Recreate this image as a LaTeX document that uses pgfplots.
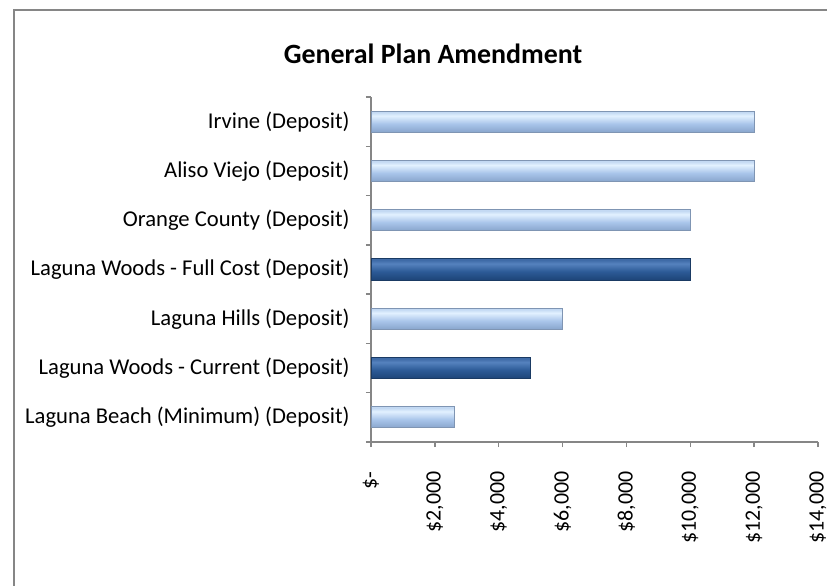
\documentclass[border=0pt]{standalone}
\usepackage{fontspec}
\setmainfont{Carlito}
\usepackage{pgfplots}
\pgfplotsset{compat=1.18}
\definecolor{axgray}{HTML}{868686}
\definecolor{lbBot}{HTML}{88A5CC}
\definecolor{lbMid}{HTML}{A9C5EA}
\definecolor{lbHi}{HTML}{E2F1FF}
\definecolor{lbTop}{HTML}{C3D9F3}
\definecolor{lbEdge}{HTML}{7F95B3}
\definecolor{dbBot}{HTML}{1D4477}
\definecolor{dbMid}{HTML}{2C5A96}
\definecolor{dbHi}{HTML}{5582BE}
\definecolor{dbTop}{HTML}{3F6BA7}
\definecolor{dbEdge}{HTML}{1A3A63}
\pgfdeclareverticalshading{lightbar}{100bp}{color(0bp)=(lbBot); color(25bp)=(lbBot); color(45bp)=(lbMid); color(64bp)=(lbHi); color(72bp)=(lbTop); color(75bp)=(lbTop); color(100bp)=(lbTop)}
\pgfdeclareverticalshading{darkbar}{100bp}{color(0bp)=(dbBot); color(25bp)=(dbBot); color(45bp)=(dbMid); color(64bp)=(dbHi); color(72bp)=(dbTop); color(75bp)=(dbTop); color(100bp)=(dbTop)}
\begin{document}
\begin{tikzpicture}
\useasboundingbox (0,0) rectangle (413.5bp,-293bp);
\draw[axgray, line width=0.8bp] (7bp,-320bp) -- (7bp,-5bp) -- (430bp,-5bp);
\node[anchor=base, font=\fontsize{14}{17}\selectfont\bfseries] at (216.5bp,-31.5bp) {General Plan Amendment};
\begin{axis}[
  at={(185.5bp,-221bp)}, anchor=south west,
  scale only axis, width=223.5bp, height=172.5bp,
  xmin=0, xmax=14000, ymin=-0.5, ymax=6.5,
  axis x line*=bottom, axis y line*=left,
  axis line style={draw=axgray, line width=0.75bp},
  tick align=outside, major tick length=2.5bp, minor tick length=2.5bp,
  scaled x ticks=false,
  /pgf/number format/assume math mode=true,
  xtick={0,2000,4000,6000,8000,10000,12000,14000},
  xticklabels={{\$-},{\$2,000},{\$4,000},{\$6,000},{\$8,000},{\$10,000},{\$12,000},{\$14,000}},
  xticklabel style={rotate=90, anchor=east, inner sep=0pt, font=\fontsize{11}{13}\selectfont},
  xticklabel shift=12bp,
  every major x tick/.append style={draw=axgray, line width=0.75bp},
  ytick={0,1,2,3,4,5,6},
  yticklabels={{Laguna Beach (Minimum) (Deposit)},{Laguna Woods - Current (Deposit)},{Laguna Hills (Deposit)},{Laguna Woods - Full Cost (Deposit)},{Orange County (Deposit)},{Aliso Viejo (Deposit)},{Irvine (Deposit)}},
  yticklabel style={anchor=east, inner sep=0pt, font=\fontsize{11.35}{13}\selectfont},
  yticklabel shift=8bp,
  every major y tick/.append style={draw=none},
  minor ytick={-0.5,0.5,1.5,2.5,3.5,4.5,5.5,6.5},
  every minor y tick/.append style={draw=axgray, line width=0.75bp},
  xbar, bar width=0.43, bar shift=0pt,
  clip=false,
  lightb/.style={xbar, bar shift=0pt, draw=lbEdge, line width=0.5bp, shading=lightbar},
  darkb/.style={xbar, bar shift=0pt, draw=dbEdge, line width=0.5bp, shading=darkbar},
]
\addplot[lightb] coordinates {(2625,0)};
\addplot[darkb]  coordinates {(5000,1)};
\addplot[lightb] coordinates {(6000,2)};
\addplot[darkb]  coordinates {(10000,3)};
\addplot[lightb] coordinates {(10000,4)};
\addplot[lightb] coordinates {(12000,5)};
\addplot[lightb] coordinates {(12000,6)};
\end{axis}
\end{tikzpicture}
\end{document}
